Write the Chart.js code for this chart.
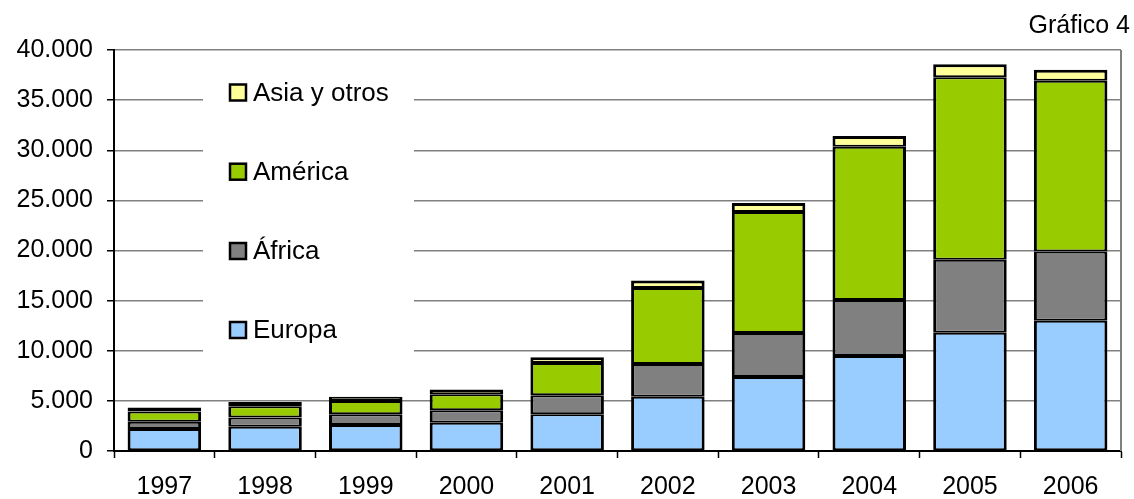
<!DOCTYPE html>
<html>
<head>
<meta charset="utf-8">
<script src="https://cdn.jsdelivr.net/npm/chart.js@4.4.1/dist/chart.umd.min.js"></script>
<style>
  html, body { margin: 0; padding: 0; background: #ffffff; }
  #wrap { width: 1134px; height: 499px; position: relative; }
</style>
</head>
<body>
<div id="wrap"><canvas id="c" width="1134" height="499"></canvas></div>
<script>
const categories = ["1997","1998","1999","2000","2001","2002","2003","2004","2005","2006"];
const europa  = [2200, 2430, 2600, 2830, 3670, 5400, 7370, 9470, 11800, 13000];
const africa  = [730, 900, 1070, 1230, 1900, 3270, 4400, 5600, 7270, 6900];
const america = [1000, 1130, 1330, 1600, 3200, 7600, 12070, 15270, 18200, 17030];
const asia    = [400, 430, 400, 470, 570, 730, 900, 1070, 1300, 1100];
const seriesNames = ["Europa", "África", "América", "Asia y otros"];
const seriesColors = ["#99CCFF", "#808080", "#99CC00", "#FFFF99"];
const yTicks = [0, 5000, 10000, 15000, 20000, 25000, 30000, 35000, 40000];
const chartLabel = "Gráfico 4";

const FONT = "'Liberation Sans', Arial, sans-serif";

function fmt(v) {
  return String(v).replace(/\B(?=(\d{3})+(?!\d))/g, ".");
}

const legendPlugin = {
  id: 'insideLegend',
  beforeDatasetsDraw(chart) {
    const ctx = chart.ctx;
    ctx.save();
    ctx.fillStyle = '#ffffff';
    ctx.fillRect(203, 60, 211, 305);
    const ys = [92.5, 171.7, 251, 330];
    const order = [3, 2, 1, 0];
    ctx.font = "26px " + FONT;
    ctx.textBaseline = 'middle';
    ctx.textAlign = 'left';
    order.forEach((di, i) => {
      const y = ys[i];
      ctx.fillStyle = seriesColors[di];
      ctx.fillRect(230, y - 8, 16, 16);
      ctx.strokeStyle = '#000000';
      ctx.lineWidth = 2.5;
      ctx.strokeRect(230, y - 8, 16, 16);
      ctx.fillStyle = '#000000';
      ctx.fillText(seriesNames[di], 253, y + 1);
    });
    ctx.restore();
  },
  afterDraw(chart) {
    const ctx = chart.ctx;
    const a = chart.chartArea;
    ctx.save();
    ctx.strokeStyle = '#808080';
    ctx.lineWidth = 2;
    ctx.beginPath();
    ctx.moveTo(a.right, a.top);
    ctx.lineTo(a.right, a.bottom);
    ctx.stroke();
    ctx.font = "25px " + FONT;
    ctx.fillStyle = '#000000';
    ctx.textAlign = 'right';
    ctx.textBaseline = 'alphabetic';
    ctx.fillText(chartLabel, 1130, 33);
    ctx.restore();
  }
};

const data = [europa, africa, america, asia];
const datasets = data.map((d, i) => ({
  label: seriesNames[i],
  data: d,
  backgroundColor: seriesColors[i],
  borderColor: '#000000',
  borderWidth: { left: 3, right: 3, top: i === 3 ? 3 : 2, bottom: 2 },
  borderSkipped: false,
  inflateAmount: 0,
  categoryPercentage: 1.0,
  barPercentage: 0.73
}));

new Chart(document.getElementById('c'), {
  type: 'bar',
  data: { labels: categories, datasets },
  options: {
    responsive: false,
    animation: false,
    events: [],
    layout: { padding: { top: 50, right: 13, left: 0, bottom: 0 } },
    plugins: { legend: { display: false }, tooltip: { enabled: false }, title: { display: false } },
    scales: {
      x: {
        stacked: true,
        offset: true,
        grid: { offset: true, drawOnChartArea: false, drawTicks: true, tickLength: 7, tickColor: '#000000', tickWidth: 1.5 },
        border: { color: '#000000', width: 2 },
        ticks: { color: '#000000', font: { family: FONT, size: 25 }, padding: 14, maxRotation: 0, autoSkip: false },
        afterFit(s) { s.height = 48; }
      },
      y: {
        stacked: true,
        min: 0,
        max: 40000,
        afterBuildTicks(s) { s.ticks = yTicks.map(v => ({ value: v })); },
        grid: { color: '#808080', lineWidth: 1.5, tickLength: 7, tickColor: '#000000', tickWidth: 1.5 },
        border: { color: '#000000', width: 2 },
        ticks: { color: '#000000', font: { family: FONT, size: 25 }, padding: 14, callback: v => fmt(v) },
        afterFit(s) { s.width = 114; }
      }
    }
  },
  plugins: [legendPlugin]
});
</script>
</body>
</html>
